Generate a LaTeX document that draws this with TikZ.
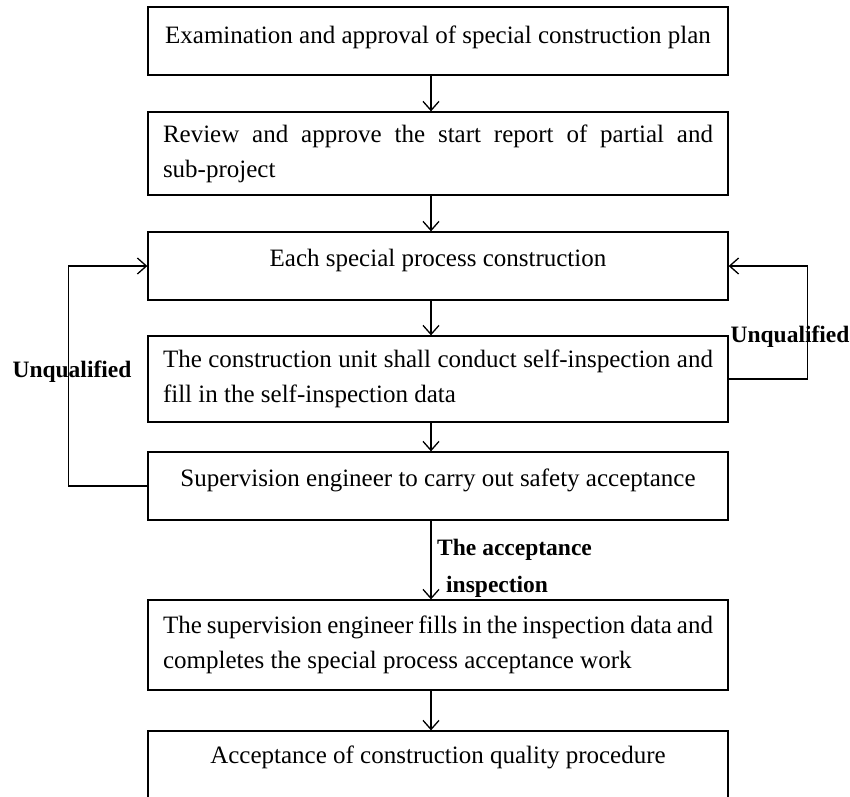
\documentclass[tikz,border=0pt]{standalone}
\usepackage{fontspec}
\setmainfont{Liberation Serif}
\usetikzlibrary{arrows.meta,positioning}

\tikzset{
  stage/.style={draw, line width=1.3pt, minimum width=580pt, inner xsep=15pt, inner ysep=0pt,
    font=\fontsize{25}{35}\selectfont},
  stagetwo/.style={stage, text width=550pt, align=justify},
  flow/.style={draw, line width=1.3pt, -{Straight Barb[length=9pt,width=16pt]}},
  note/.style={font=\fontsize{23.5}{37}\selectfont\bfseries, align=left, inner sep=0pt},
}

\begin{document}
\begin{tikzpicture}[x=1pt, y=-1pt]
\useasboundingbox (0,0) rectangle (850,796);

% boxes, top to bottom
\node (b1) at (438,41) [stage, minimum height=68pt, text height=18pt, text depth=14pt]
  {Examination and approval of special construction plan};
\node (b2) at (438,153.5) [stagetwo, minimum height=83pt]
  {Review and approve the start report of partial and\linebreak sub-project};
\node (b3) at (438,266) [stage, minimum height=68pt, text height=18pt, text depth=18pt]
  {Each special process construction};
\node (b4) at (438,379) [stagetwo, minimum height=86pt]
  {The construction unit shall conduct self-inspection and\linebreak fill in the self-inspection data};
\node (b5) at (438,486) [stage, minimum height=68pt, text height=18pt, text depth=18pt]
  {Supervision engineer to carry out safety acceptance};
\node (b6) at (438,645) [stagetwo, minimum height=90pt]
  {The supervision engineer fills in the inspection data and\linebreak completes the special process acceptance work};
\node (b7) at (438,768.5) [stage, minimum height=75pt, text height=18pt, text depth=29pt]
  {Acceptance of construction quality procedure};

\coordinate (spine) at (431,0);

% main flow
\draw[flow] (b1.south -| spine) -- (b2.north -| spine);
\draw[flow] (b2.south -| spine) -- (b3.north -| spine);
\draw[flow] (b3.south -| spine) -- (b4.north -| spine);
\draw[flow] (b4.south -| spine) -- (b5.north -| spine);
\draw[flow] (b5.south -| spine) -- (b6.north -| spine);
\draw[flow] (b6.south -| spine) -- (b7.north -| spine);

% feedback loops
\draw[flow] (b5.west) -- ++(-79,0) |- (b3.west);
\draw[flow] (b4.east) -- ++(79,0) |- (b3.east);

% labels
\node (unqleft) at (72,372) [note] {Unqualified};
\node (unqright) at (790,337) [note] {Unqualified};
\node (accept) at (437,568.5) [note, anchor=west] {The acceptance\\\hspace{9pt}inspection};
\end{tikzpicture}
\end{document}
